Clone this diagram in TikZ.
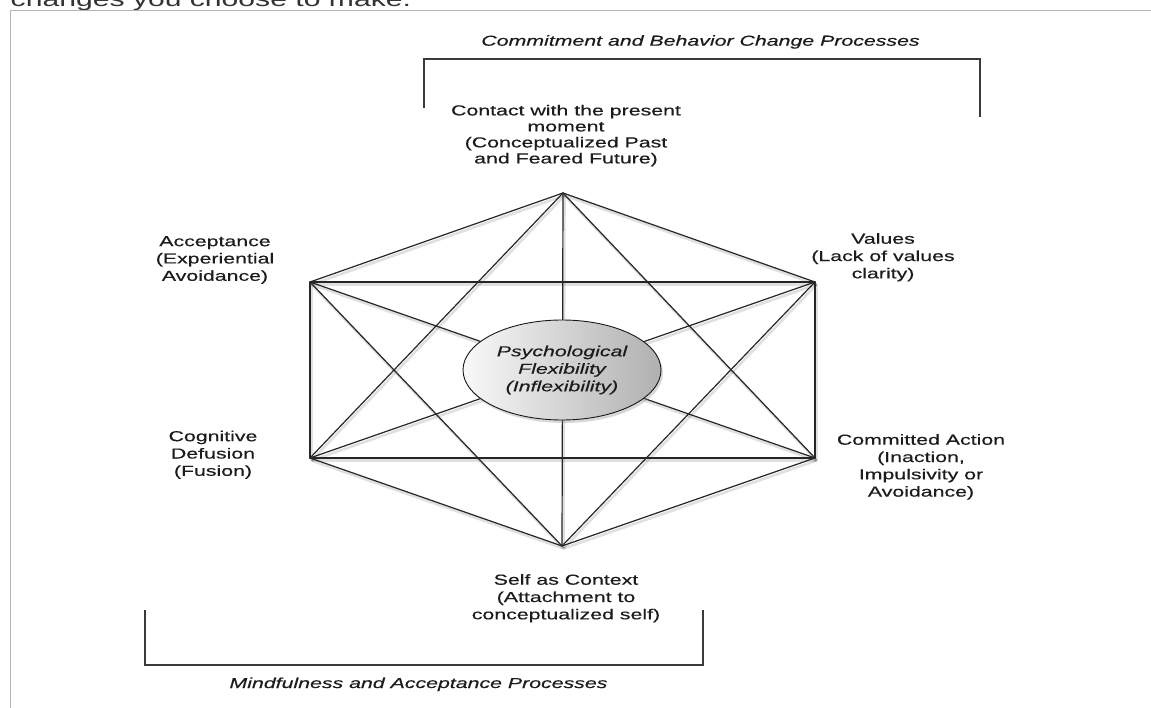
\documentclass[tikz,border=0pt]{standalone}
\usepackage{fontspec}
\setmainfont{Liberation Sans}[FakeStretch=1.47,FakeBold=0.35]
\newfontfamily\pagefont{Liberation Sans}[FakeStretch=1.47]
\usetikzlibrary{shapes.geometric,shadows}
\definecolor{framegray}{HTML}{B4B4B4}
\definecolor{brk}{HTML}{3A3A3A}
\definecolor{txt}{HTML}{1C1C1C}
\definecolor{pagetxt}{HTML}{333333}
\begin{document}
\begin{tikzpicture}[x=1pt,y=-1pt,
  lab/.style={font=\fontsize{14.5}{17.3}\selectfont, text=txt, align=center,
    inner sep=0pt, anchor=north, execute at begin node={\rule{0pt}{12pt}}},
  grouptitle/.style={font=\itshape\fontsize{14.5}{17}\selectfont, text=txt,
    inner sep=0pt, anchor=base},
  edge/.style={draw=black!85, line width=1.2pt, line cap=round},
  edgeshadow/.style={draw=black, opacity=0.12, line width=2.6pt},
  bracketline/.style={draw=brk, line width=1.6pt},
  framerule/.style={draw=framegray, line width=1pt},
  core/.style={ellipse, draw=black!90, line width=0.9pt, minimum width=198pt,
    minimum height=100pt, inner sep=0pt, align=center, text=txt,
    left color=gray!5, right color=gray!62,
    font=\itshape\fontsize{14.5}{17.5}\selectfont,
    drop shadow={opacity=0.3, shadow xshift=2pt, shadow yshift=-3pt}}]
\clip (0,0) rectangle (1151,708);
\fill[white] (0,0) rectangle (1151,708);

% page remnants
\node[text=pagetxt, inner sep=0pt, anchor=base west]
  (pagetext) at (10.5,6.7) {\pagefont\fontsize{20.5}{24}\selectfont changes you choose to make.};
\draw[framerule] (10,708) -- (10,11) -- (1151,11);

% vertices
\coordinate (T) at (563,193);
\coordinate (UL) at (310,282);
\coordinate (UR) at (815,282);
\coordinate (LL) at (310,458);
\coordinate (LR) at (815,458);
\coordinate (B) at (562,546);

\foreach \a/\b in {T/UL,T/UR,UL/LL,UR/LR,LL/B,LR/B,UL/UR,LL/LR,T/LL,T/LR,B/UL,B/UR,T/B,UL/LR,UR/LL}
  \draw[edgeshadow] ([shift={(1.5,2.5)}]\a) -- ([shift={(1.5,2.5)}]\b);
\foreach \a/\b in {T/UL,T/UR,UL/LL,UR/LR,LL/B,LR/B,UL/UR,LL/LR,T/LL,T/LR,B/UL,B/UR,T/B,UL/LR,UR/LL}
  \draw[edge] (\a) -- (\b);

\node[core] (pf) at (562,370) {Psychological\\Flexibility\\(Inflexibility)};

% labels
\node[lab, font=\fontsize{14.5}{16}\selectfont] (contact) at (566,104.7)
  {Contact with the present\\moment\\(Conceptualized Past\\and Feared Future)};
\node[lab] (accept) at (215,236) {Acceptance\\(Experiential\\Avoidance)};
\node[lab] (values) at (883,233) {Values\\(Lack of values\\clarity)};
\node[lab] (defusion) at (213,430.5) {Cognitive\\Defusion\\(Fusion)};
\node[lab] (action) at (921,434) {Committed Action\\(Inaction,\\Impulsivity or\\Avoidance)};
\node[lab] (self) at (566,574) {Self as Context\\(Attachment to\\conceptualized self)};

% brackets
\draw[bracketline] (424,108) -- (424,59) -- (980,59) -- (980,117);
\node[grouptitle] (commit) at (700.5,45.7) {Commitment and Behavior Change Processes};
\draw[bracketline] (145,610) -- (145,665) -- (703,665) -- (703,610);
\node[grouptitle] (mindful) at (418.5,688) {Mindfulness and Acceptance Processes};
\end{tikzpicture}
\end{document}
